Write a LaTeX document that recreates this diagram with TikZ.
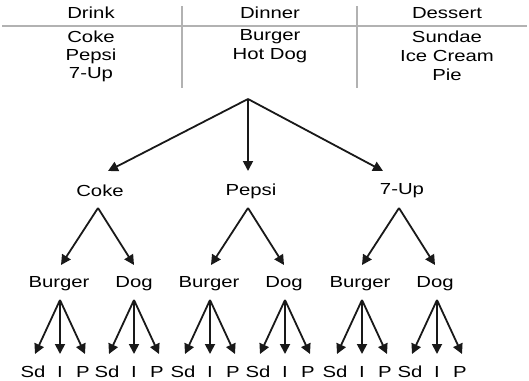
\documentclass[tikz,border=0pt]{standalone}
\usepackage{fontspec}
\setmainfont[FakeStretch=1.27]{Liberation Sans}
\usetikzlibrary{arrows.meta}
\begin{document}
\begin{tikzpicture}[x=1pt,y=-1pt,
  lbl/.style={font=\fontsize{16}{19}\selectfont, inner sep=1pt, text=black},
  rule/.style={draw=black!30, line width=2.5pt},
  edge/.style={draw=black!90, line width=1.8pt, -{Triangle[length=10pt,width=10pt]}},
]
\useasboundingbox (0,0) rectangle (529,380);
% header table
\coordinate (hl) at (2,26);   \coordinate (hr) at (527,26);
\coordinate (s1t) at (182,6); \coordinate (s1b) at (182,88);
\coordinate (s2t) at (357,6); \coordinate (s2b) at (357,88);
\draw[rule] (hl) -- (hr);
\draw[rule] (s1t) -- (s1b);
\draw[rule] (s2t) -- (s2b);
\node[lbl] (hdrink) at (91,13) {Drink};
\node[lbl] (hcoke) at (91,37) {Coke};
\node[lbl] (hpepsi) at (91,56) {Pepsi};
\node[lbl] (hseven) at (91,75) {7-Up};
\node[lbl] (hdinner) at (270,13) {Dinner};
\node[lbl] (hburger) at (270,37) {Burger};
\node[lbl] (hdog) at (270,56) {Hot Dog};
\node[lbl] (hdessert) at (447,13) {Dessert};
\node[lbl] (hsundae) at (447,37) {Sundae};
\node[lbl] (hice) at (447,56) {Ice Cream};
\node[lbl] (hpie) at (447,75) {Pie};
% root
\coordinate (root) at (248,99);
% level 1
\node[lbl] (coke) at (100,191) {Coke};
\node[lbl] (pepsi) at (251,191) {Pepsi};
\node[lbl] (seven) at (402,191) {7-Up};
\coordinate (tcoke) at (108,171);
\coordinate (tpepsi) at (248,171);
\coordinate (tseven) at (383,171);
\draw[edge] (root) -- (tcoke);
\draw[edge] (root) -- (tpepsi);
\draw[edge] (root) -- (tseven);
% level 2 and leaves
\foreach \p/\c/\nm in {coke/98/1, pepsi/248/2, seven/399/3}{
  \coordinate (a\nm) at (\c,208);
  \coordinate (tl\nm) at (\c-37,265);
  \coordinate (tr\nm) at (\c+36,265);
  \node[lbl] (bur\nm) at (\c-39,284) {Burger};
  \node[lbl] (dog\nm) at (\c+36,284) {Dog};
  \draw[edge] (a\nm) -- (tl\nm);
  \draw[edge] (a\nm) -- (tr\nm);
}
\foreach \c/\nm in {60/a, 134/b, 210/c, 285/d, 362/e, 437/f}{
  \coordinate (ap\nm) at (\c,300);
  \coordinate (ls\nm) at (\c-25,354);
  \coordinate (li\nm) at (\c,354);
  \coordinate (lp\nm) at (\c+25,354);
  \draw[edge] (ap\nm) -- (ls\nm);
  \draw[edge] (ap\nm) -- (li\nm);
  \draw[edge] (ap\nm) -- (lp\nm);
  \node[lbl] (s\nm) at (\c-27,372) {Sd};
  \node[lbl] (i\nm) at (\c,372) {I};
  \node[lbl] (p\nm) at (\c+23,372) {P};
}
\end{tikzpicture}
\end{document}
